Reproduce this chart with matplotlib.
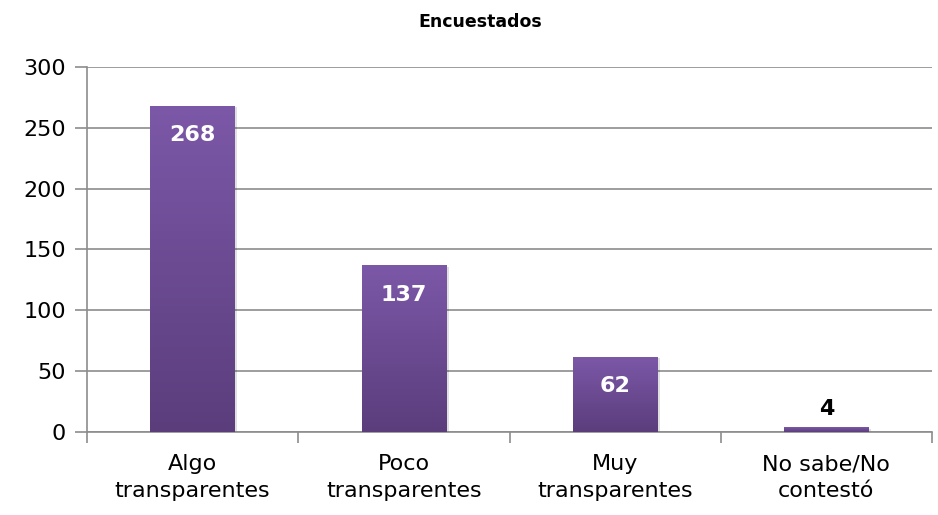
import numpy as np
import matplotlib.pyplot as plt
from matplotlib.colors import LinearSegmentedColormap

categories = ["Algo\ntransparentes", "Poco\ntransparentes", "Muy\ntransparentes", "No sabe/No\ncontestó"]
values = [268, 137, 62, 4]
yticks = [0, 50, 100, 150, 200, 250, 300]

plt.rcParams['font.family'] = ['DejaVu Sans']

fig = plt.figure(figsize=(9.38, 5.15), dpi=100)
ax = fig.add_axes([0.0928, 0.1612, 0.9008, 0.7087])

x = np.arange(len(categories))
bars = ax.bar(x, values, width=0.40, color="#6E4C96", zorder=3)

# vertical gradient on each bar, lighter on top
cmap = LinearSegmentedColormap.from_list("purp", ["#5B3D7C", "#7C58A8"])
grad = np.linspace(0, 1, 256).reshape(-1, 1)
for b in bars:
    x0, w, h = b.get_x(), b.get_width(), b.get_height()
    # soft shadow
    ax.bar(x0 + w / 2 + 0.012, h, width=w, bottom=-1.2, color="#000000", alpha=0.12, zorder=2)
    im = ax.imshow(grad, extent=[x0, x0 + w, 0, h], origin="lower", cmap=cmap,
                   aspect="auto", zorder=4)
    im.set_clip_path(b)

for i, v in enumerate(values):
    if v > 20:
        ax.text(i, v - 24, str(v), ha="center", va="center", color="white",
                fontsize=16, fontweight="bold", zorder=5)
    else:
        ax.text(i, v + 15, str(v), ha="center", va="center", color="black",
                fontsize=16, fontweight="bold", zorder=5)

ax.set_xlim(-0.5, len(categories) - 0.5)
ax.set_ylim(0, 300)
ax.set_yticks(yticks)
ax.yaxis.grid(True, color="#8C8C8C", linewidth=1.2, zorder=0)
ax.set_axisbelow(True)

ax.set_xticks(x)
ax.set_xticklabels(categories, fontsize=16, linespacing=1.45)
ax.tick_params(axis="x", length=0, pad=16)
ax.set_xticks(np.arange(-0.5, len(categories)), minor=True)
ax.tick_params(axis="x", which="minor", length=8, color="#8C8C8C", width=1.2)
ax.tick_params(axis="y", length=9, color="#8C8C8C", width=1.2, labelsize=16, pad=6)

for side in ["top", "right"]:
    ax.spines[side].set_visible(False)
for side in ["left", "bottom"]:
    ax.spines[side].set_color("#8C8C8C")
    ax.spines[side].set_linewidth(1.2)

fig.text(0.512, 0.957, "Encuestados", ha="center", va="center", fontsize=12.5, fontweight="bold")

fig.savefig("out.png", dpi=100)
